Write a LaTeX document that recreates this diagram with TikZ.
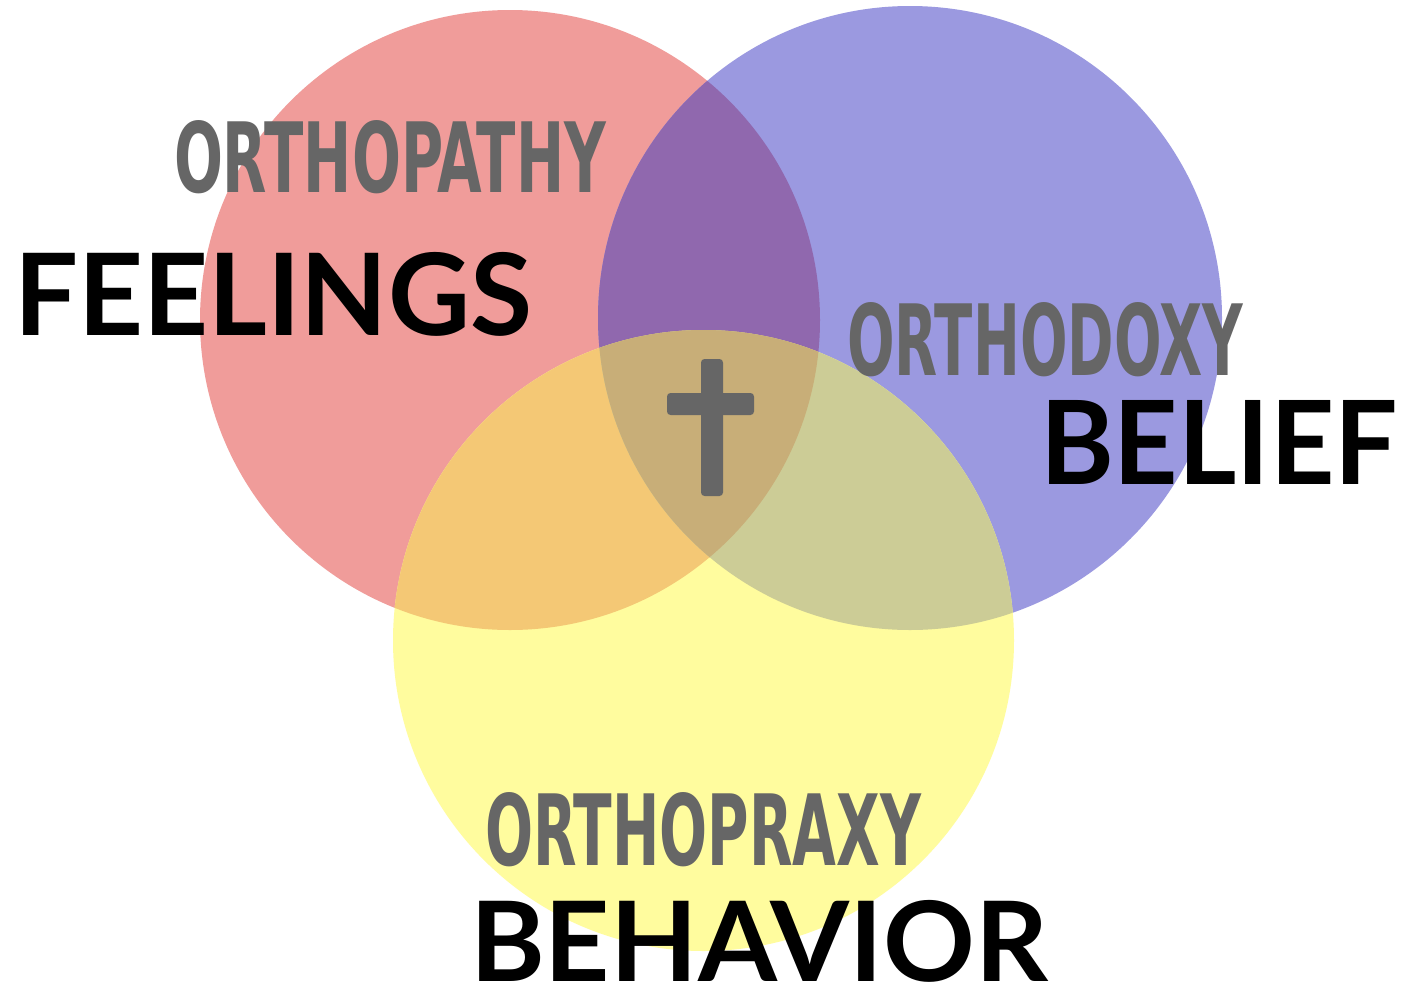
\documentclass[tikz,border=0pt]{standalone}
\usepackage{fontspec}
\setmainfont{Lato}
\newfontfamily\condfont{DejaVu Sans Condensed}
\usepackage{graphicx}
\newlength\pxu
\setlength\pxu{0.02cm}
\definecolor{cred}{HTML}{F09C9A}
\definecolor{cblue}{HTML}{9B99E0}
\definecolor{cyellow}{HTML}{FFFC9E}
\definecolor{cpurple}{HTML}{9068AE}
\definecolor{corange}{HTML}{F4C875}
\definecolor{colive}{HTML}{CCCC96}
\definecolor{ccenter}{HTML}{C8AE78}
\definecolor{cgray}{HTML}{666666}
\tikzset{
  lbl/.style={anchor=north west, inner sep=0pt, outer sep=0pt},
  greylbl/.style={lbl, text=cgray},
  blacklbl/.style={lbl, text=black},
}
\newcommand{\redcirc}{(510,320) circle (310)}
\newcommand{\bluecirc}{(910,318) circle (312)}
\newcommand{\yelcirc}{(703.5,640.5) circle (310.5)}
\begin{document}
\begin{tikzpicture}[x=0.02cm,y=-0.02cm]
\useasboundingbox (0,0) rectangle (1414,991);
\fill[white] (0,0) rectangle (1414,991);
% base circles
\fill[cred] \redcirc;
\fill[cblue] \bluecirc;
\fill[cyellow] \yelcirc;
% pairwise overlaps
\begin{scope}
  \clip \redcirc;
  \fill[cpurple] \bluecirc;
  \fill[corange] \yelcirc;
\end{scope}
\begin{scope}
  \clip \bluecirc;
  \fill[colive] \yelcirc;
\end{scope}
\begin{scope}
  \clip \redcirc;
  \clip \bluecirc;
  \fill[ccenter] \yelcirc;
\end{scope}
% cross
\fill[cgray, rounded corners=2] (701,359) rectangle (723,496);
\fill[cgray, rounded corners=2] (667,393) rectangle (754,415);
% labels
\node[greylbl] (orthopathy) at (174,120) {\resizebox{432\pxu}{72\pxu}{\condfont\bfseries ORTHOPATHY}};
\node[blacklbl] (feelings) at (14,252) {\resizebox*{518\pxu}{84\pxu}{\bfseries FEELINGS}};
\node[greylbl] (orthodoxy) at (847,302) {\resizebox{396\pxu}{73\pxu}{\condfont\bfseries ORTHODOXY}};
\node[blacklbl] (belief) at (1040,400) {\resizebox*{358\pxu}{84\pxu}{\bfseries BELIEF}};
\node[greylbl] (orthopraxy) at (485,792) {\resizebox{436\pxu}{73\pxu}{\condfont\bfseries ORTHOPRAXY}};
\node[blacklbl] (behavior) at (470,900) {\resizebox*{578\pxu}{82\pxu}{\bfseries BEHAVIOR}};
\end{tikzpicture}
\end{document}
